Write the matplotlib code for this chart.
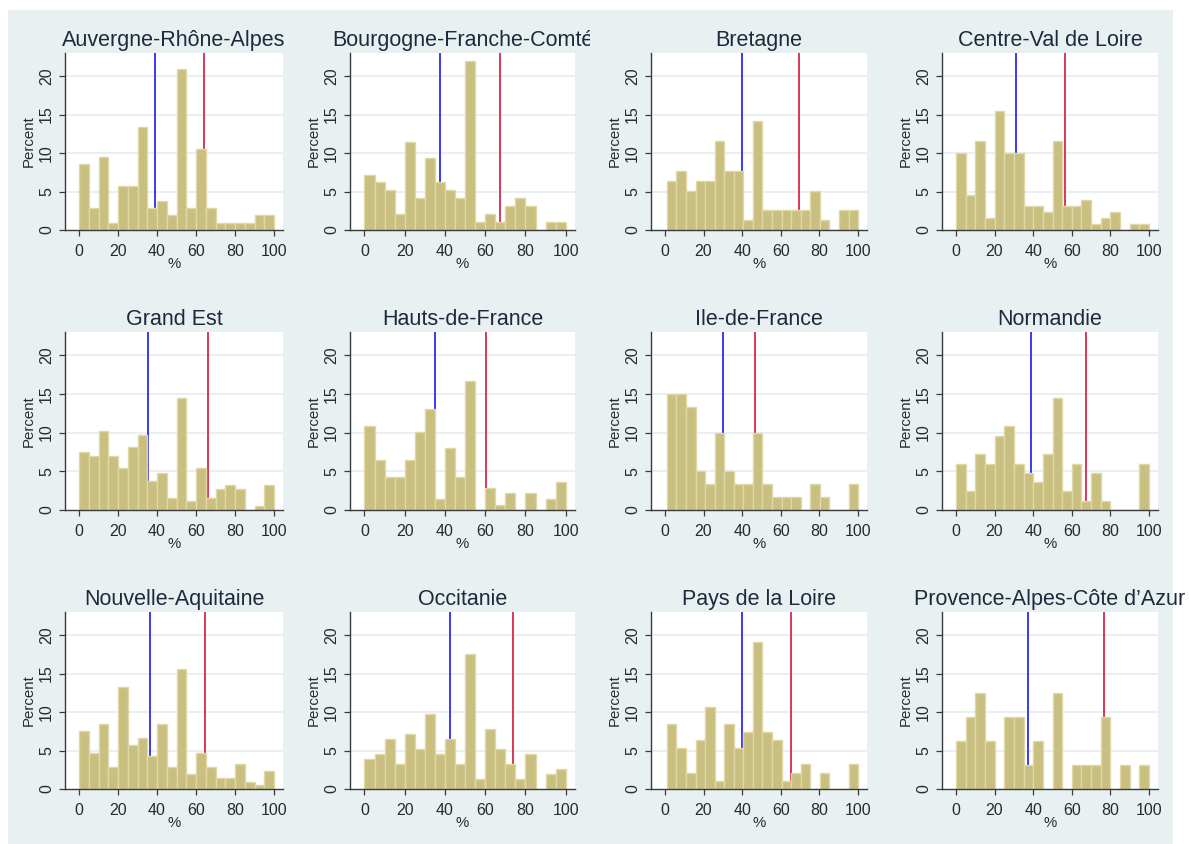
import numpy as np
import matplotlib
matplotlib.use("Agg")
import matplotlib.pyplot as plt
from matplotlib.patches import Rectangle
from matplotlib.transforms import Bbox, TransformedBbox

plt.rcParams["font.family"] = ["Liberation Sans", "DejaVu Sans"]

# Régions (une case par région)
regions = [
    "Auvergne-Rhône-Alpes", "Bourgogne-Franche-Comté", "Bretagne", "Centre-Val de Loire",
    "Grand Est", "Hauts-de-France", "Ile-de-France", "Normandie",
    "Nouvelle-Aquitaine", "Occitanie", "Pays de la Loire", "Provence-Alpes-Côte d\u2019Azur",
]

# Début du premier intervalle (20 intervalles jusqu'à 100)
debut_bins = [0, 0, 1, 0, 0, 0, 1, 0, 0, 0, 1, 0]

# Pourcentages lus sur chaque histogramme
auvergne = [8.57, 2.86, 9.52, 0.95, 5.71, 5.71, 13.33, 2.86, 3.81, 1.90,
            20.95, 2.86, 10.48, 2.86, 0.95, 0.95, 0.95, 0.95, 1.90, 1.90]
bourgogne = [7.2, 6.2, 5.2, 2.1, 11.4, 4.1, 9.3, 6.2, 5.2, 4.1,
             21.9, 1.0, 2.1, 1.0, 3.1, 4.1, 3.1, 0, 1.0, 1.0]
bretagne = [6.4, 7.7, 5.1, 6.4, 6.4, 11.6, 7.7, 7.7, 1.3, 14.1,
            2.6, 2.6, 2.6, 2.6, 2.6, 5.1, 1.3, 0, 2.6, 2.6]
centre = [10.0, 4.6, 11.6, 1.5, 15.5, 10.0, 10.0, 3.1, 3.1, 2.3,
          11.6, 3.1, 3.1, 3.9, 0.8, 1.5, 2.3, 0, 0.8, 0.8]
grand_est = [7.5, 7.0, 10.2, 7.0, 5.4, 8.1, 9.7, 3.8, 4.8, 1.6,
             14.5, 1.1, 5.4, 1.6, 2.7, 3.2, 2.7, 0, 0.5, 3.2]
hauts_de_france = [10.9, 6.5, 4.3, 4.3, 6.5, 10.1, 13.0, 1.4, 8.0, 4.3,
                   16.7, 0, 2.9, 0.7, 2.2, 0, 2.2, 0, 1.4, 3.6]
ile_de_france = [15.0, 15.0, 13.3, 5.0, 3.3, 10.0, 5.0, 3.3, 3.3, 10.0,
                 3.3, 1.7, 1.7, 1.7, 0, 3.3, 1.7, 0, 0, 3.3]
normandie = [6.0, 2.4, 7.2, 6.0, 9.6, 10.8, 6.0, 4.8, 3.6, 7.2,
             14.5, 2.4, 6.0, 1.2, 4.8, 1.2, 0, 0, 0, 6.0]
nouvelle_aquitaine = [7.6, 4.7, 8.5, 2.8, 13.3, 5.7, 6.6, 4.3, 8.5, 2.8,
                      15.6, 1.9, 4.7, 2.8, 1.4, 1.4, 3.3, 0.9, 0.5, 2.4]
occitanie = [3.9, 4.5, 6.5, 3.2, 7.1, 5.2, 9.7, 4.5, 6.5, 3.2,
             17.5, 1.3, 7.8, 5.2, 3.2, 1.3, 4.5, 0, 1.9, 2.6]
pays_de_la_loire = [8.5, 5.3, 2.1, 6.4, 10.6, 1.1, 8.5, 5.3, 7.4, 19.1,
                    7.4, 6.4, 1.1, 2.1, 3.2, 0, 2.1, 0, 0, 3.2]
paca = [6.25, 9.4, 12.5, 6.25, 0, 9.4, 9.4, 3.1, 6.25, 0,
        12.5, 0, 3.1, 3.1, 3.1, 9.4, 0, 3.1, 0, 3.1]

pourcentages = [auvergne, bourgogne, bretagne, centre,
                grand_est, hauts_de_france, ile_de_france, normandie,
                nouvelle_aquitaine, occitanie, pays_de_la_loire, paca]

# Lignes verticales (bleue et rouge)
ligne_bleue = [39.0, 37.7, 39.7, 31.3, 35.5, 34.8, 29.9, 39.1, 36.6, 42.6, 39.9, 37.3]
ligne_rouge = [64.3, 67.4, 69.4, 56.3, 66.0, 60.4, 46.7, 67.5, 64.8, 73.7, 65.2, 76.6]

# Couleurs
fond = "#e8f0f2"
grille = "#e6eef0"
barre = "#c9bf80"
bord_barre = "#e0d8a6"
bleu = "#3a3af2"
rouge = "#d8385a"
texte = "#1e2a3c"

# Position des cases en pixels
W, H = 1189, 844
gauches = [65, 350, 651, 942]
droites = [283, 575, 867, 1158]
hauts = [53, 332, 612]
bas = [230, 510, 789]
limites_cases = [0, 295, 590, 880, W]


def tracer_panneau(fig, i):
    ligne, col = divmod(i, 4)
    x0, x1 = gauches[col], droites[col]
    y0, y1 = hauts[ligne], bas[ligne]
    ax = fig.add_axes([x0 / W, 1 - y1 / H, (x1 - x0) / W, (y1 - y0) / H])

    bords = np.linspace(debut_bins[i], 100, 21)
    ax.bar(bords[:-1], pourcentages[i], width=np.diff(bords), align="edge",
           color=barre, edgecolor=bord_barre, linewidth=1.0, zorder=2)
    ax.axvline(ligne_bleue[i], color=bleu, lw=1.4, zorder=1)
    ax.axvline(ligne_rouge[i], color=rouge, lw=1.4, zorder=1)

    ax.set_xlim(-7.2, 104.6)
    ax.set_ylim(0, 23)
    ax.set_xticks([0, 20, 40, 60, 80, 100])
    ax.set_yticks([0, 5, 10, 15, 20])
    for y in [5, 10, 15, 20]:
        ax.axhline(y, color=grille, lw=1.2, zorder=0)

    for c in ["top", "right"]:
        ax.spines[c].set_visible(False)
    for c in ["left", "bottom"]:
        ax.spines[c].set_color("#3a3a3a")
        ax.spines[c].set_linewidth(1.0)
    ax.tick_params(axis="both", colors="#3a3a3a", labelcolor="#2a2a2a",
                   labelsize=11.5, length=4, width=0.9)
    ax.tick_params(axis="y", pad=4)
    ax.tick_params(axis="x", pad=6)
    for lab in ax.get_yticklabels():
        lab.set_rotation(90)
        lab.set_va("center")

    ax.set_ylabel("Percent", fontsize=10.8, color="#2a2a2a")
    ax.yaxis.set_label_coords(-29 / (x1 - x0), 0.5)
    ax.set_xlabel("%", fontsize=10.8, color="#2a2a2a")
    ax.xaxis.set_label_coords(0.5, -27 / (y1 - y0))

    t = ax.set_title(regions[i], fontsize=15.5, color=texte, pad=5)
    # Titre coupé au bord de la case, comme dans l'original
    boite = Bbox.from_extents(limites_cases[col] / W, 0, limites_cases[col + 1] / W, 1)
    t.set_clip_box(TransformedBbox(boite, fig.transFigure))
    t.set_clip_on(True)
    return ax


fig = plt.figure(figsize=(W / 100, H / 100), dpi=100)
fig.patch.set_facecolor("white")
fig.patches.append(Rectangle((8 / W, 0), (1173 - 8) / W, (H - 10) / H,
                             transform=fig.transFigure, facecolor=fond,
                             edgecolor="none", zorder=-10))

for i in range(len(regions)):
    tracer_panneau(fig, i)

fig.savefig("out.png", dpi=100, facecolor="white")
